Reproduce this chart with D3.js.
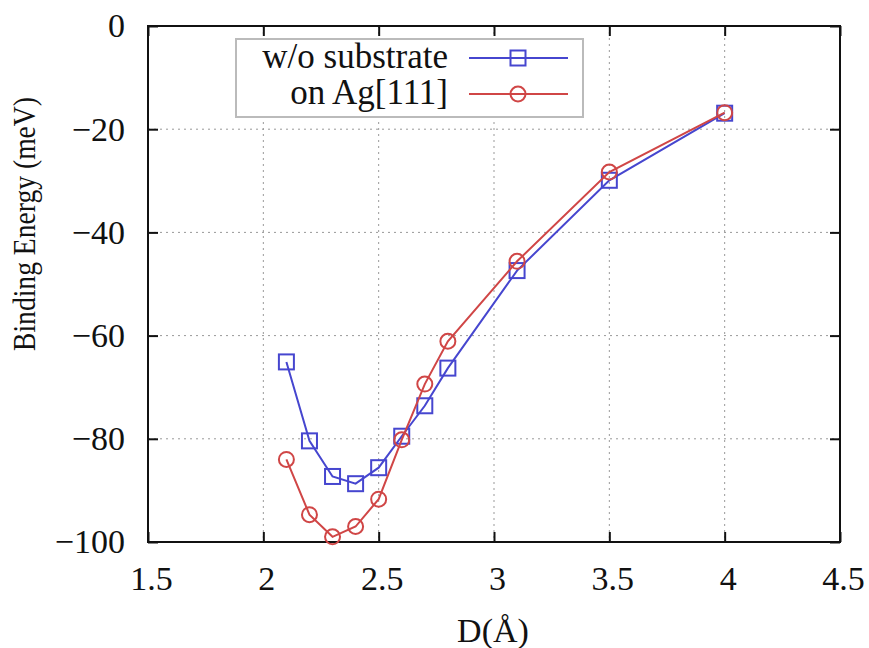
<!DOCTYPE html>
<html lang="en">
<head>
<meta charset="UTF-8">
<title>Binding Energy vs D</title>
<style>
  body { margin: 0; background: #fff; }
  text { font-family: "Liberation Serif", "Times New Roman", serif; fill: #111; }
</style>
</head>
<body>
<script src="https://cdn.jsdelivr.net/npm/d3@7"></script>
<script>
const distances = [2.1, 2.2, 2.3, 2.4, 2.5, 2.6, 2.7, 2.8, 3.1, 3.5, 4.0];
const freeEnergy = [-65.1, -80.4, -87.3, -88.7, -85.6, -79.5, -73.6, -66.3, -47.4, -29.9, -16.9];
const agEnergy = [-84.0, -94.7, -99.0, -97.0, -91.7, -80.2, -69.4, -61.1, -45.6, -28.3, -16.8];
const xTicks = [1.5, 2, 2.5, 3, 3.5, 4, 4.5];
const yTicks = [0, -20, -40, -60, -80, -100];
const seriesNames = ['w/o substrate', 'on Ag[111]'];

const w = 869;
const h = 648;
const plotLeft = 148, plotRight = 840, plotTop = 26, plotBottom = 542;

const xScale = d3.scaleLinear().domain([1.5, 4.5]).range([plotLeft, plotRight]);
const yScale = d3.scaleLinear().domain([-100, 0]).range([plotBottom, plotTop]);

const svg = d3.select('body').append('svg')
    .attr('width', w)
    .attr('height', h);

// dotted grid, only on inner ticks
const grid = svg.append('g')
    .attr('stroke', '#999')
    .attr('stroke-width', 1)
    .attr('stroke-dasharray', '2,4');
grid.selectAll('line.gx')
    .data(xTicks.slice(1, -1))
    .enter().append('line')
    .attr('x1', d => xScale(d)).attr('x2', d => xScale(d))
    .attr('y1', plotTop).attr('y2', plotBottom);
grid.selectAll('line.gy')
    .data(yTicks.slice(1, -1))
    .enter().append('line')
    .attr('x1', plotLeft).attr('x2', plotRight)
    .attr('y1', d => yScale(d)).attr('y2', d => yScale(d));

// axes, ticks pointing inward on all four sides
const tickLen = 10;
const fmt = d => String(d).replace('-', '\u2212');

svg.append('g')
    .attr('transform', `translate(0,${plotBottom})`)
    .call(d3.axisBottom(xScale).tickValues(xTicks).tickSize(-tickLen).tickPadding(24).tickFormat(fmt))
    .selectAll('.tick text').attr('dx', 3);
svg.append('g')
    .attr('transform', `translate(0,${plotTop})`)
    .call(d3.axisTop(xScale).tickValues(xTicks).tickSize(-tickLen).tickFormat(''));
svg.append('g')
    .attr('transform', `translate(${plotLeft},0)`)
    .call(d3.axisLeft(yScale).tickValues(yTicks).tickSize(-tickLen).tickPadding(23).tickFormat(fmt));
svg.append('g')
    .attr('transform', `translate(${plotRight},0)`)
    .call(d3.axisRight(yScale).tickValues(yTicks).tickSize(-tickLen).tickFormat(''));

svg.selectAll('.domain').remove();
svg.selectAll('.tick line').attr('stroke', '#111').attr('stroke-width', 2);
svg.selectAll('.tick text')
    .style('font-size', '34px')
    .attr('fill', '#111');

svg.append('rect')
    .attr('x', plotLeft).attr('y', plotTop)
    .attr('width', plotRight - plotLeft).attr('height', plotBottom - plotTop)
    .attr('fill', 'none').attr('stroke', '#111').attr('stroke-width', 2);

// axis titles
svg.append('text')
    .attr('x', 493)
    .attr('y', 642)
    .attr('text-anchor', 'middle')
    .style('font-size', '34px')
    .text('D(Å)');
svg.append('text')
    .attr('transform', 'translate(35,224) rotate(-90)')
    .attr('text-anchor', 'middle')
    .attr('textLength', 254)
    .attr('lengthAdjust', 'spacingAndGlyphs')
    .style('font-size', '31px')
    .text('Binding Energy (meV)');

// series
const series = [
    { name: seriesNames[0], values: freeEnergy, color: '#4646cf', marker: 'square' },
    { name: seriesNames[1], values: agEnergy, color: '#d04646', marker: 'circle' }
];

const line = d3.line()
    .x((d, i) => xScale(distances[i]))
    .y(d => yScale(d));

function drawMarker(g, type, color) {
    if (type === 'square') {
        g.append('rect')
            .attr('x', -7.5).attr('y', -7.5).attr('width', 15).attr('height', 15)
            .attr('fill', 'none').attr('stroke', color).attr('stroke-width', 2);
    } else {
        g.append('circle')
            .attr('r', 7.5)
            .attr('fill', 'none').attr('stroke', color).attr('stroke-width', 2);
    }
}

series.forEach(s => {
    svg.append('path')
        .datum(s.values)
        .attr('d', line)
        .attr('fill', 'none')
        .attr('stroke', s.color)
        .attr('stroke-width', 2);
    svg.selectAll(null)
        .data(s.values)
        .enter().append('g')
        .attr('transform', (d, i) => `translate(${xScale(distances[i])},${yScale(d)})`)
        .each(function () { drawMarker(d3.select(this), s.marker, s.color); });
});

// legend
const legend = svg.append('g');
legend.append('rect')
    .attr('x', 236).attr('y', 39).attr('width', 347).attr('height', 78)
    .attr('fill', '#fff').attr('stroke', '#bbb').attr('stroke-width', 2);
series.forEach((s, i) => {
    const y = 58 + i * 36;
    legend.append('text')
        .attr('x', 448).attr('y', y + 10)
        .attr('text-anchor', 'end')
        .style('font-size', '35px')
        .text(s.name);
    legend.append('line')
        .attr('x1', 469).attr('x2', 568)
        .attr('y1', y).attr('y2', y)
        .attr('stroke', s.color).attr('stroke-width', 2);
    drawMarker(legend.append('g').attr('transform', `translate(518,${y})`), s.marker, s.color);
});
</script>
</body>
</html>
